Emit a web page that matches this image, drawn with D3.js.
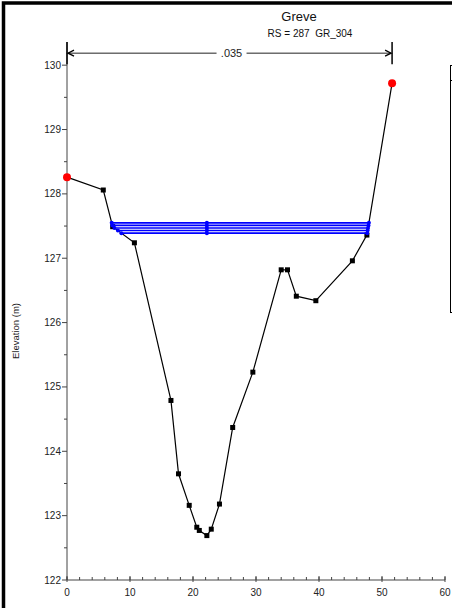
<!DOCTYPE html>
<html><head><meta charset="utf-8">
<script src="https://cdn.jsdelivr.net/npm/d3@7"></script>
<style>
html,body{margin:0;padding:0;background:#fff;}
svg{display:block;font-family:"Liberation Sans",Arial,sans-serif;}
</style></head>
<body><svg id="c" width="452" height="608"></svg>
<script>
// ---- data ----
const title = "Greve";
const subtitle = "RS = 287\u00a0\u00a0GR_304";
const stations = [0, 5.76, 7.25, 10.7, 16.5, 17.7, 19.4, 20.6, 21.0, 22.2, 22.9, 24.2, 26.3, 29.5, 34.0, 35.0, 36.4, 39.5, 45.3, 47.6, 51.6];
const elevations = [128.26, 128.06, 127.49, 127.24, 124.79, 123.65, 123.16, 122.82, 122.77, 122.69, 122.79, 123.18, 124.37, 125.23, 126.82, 126.82, 126.41, 126.34, 126.96, 127.36, 129.72];
const bankStations = [0, 51.6];
const bankElevations = [128.26, 129.72];
const wsElevations = [127.55, 127.51, 127.47, 127.43, 127.39];
const wsMidStation = [22.2];
const nValueLabel = [".035"];
const xTicks = [0, 10, 20, 30, 40, 50, 60];
const yTicks = [122, 123, 124, 125, 126, 127, 128, 129, 130];
const xDomain = [0, 60];
const yDomain = [122, 130.36];

// ---- layout ----
const svg = d3.select("#c");
const L = 67, R = 445, T = 42, B = 580;
const x = d3.scaleLinear().domain(xDomain).range([L, R]);
const y = d3.scaleLinear().domain(yDomain).range([B, T]);

// outer frame
svg.append("rect").attr("x", 3.5).attr("y", 3).attr("width", 470).attr("height", 640)
  .attr("fill", "none").attr("stroke", "#000").attr("stroke-width", 3.5);

// legend box (cut off on the right)
svg.append("rect").attr("x", 450.5).attr("y", 65.5).attr("width", 40).attr("height", 247)
  .attr("fill", "none").attr("stroke", "#000").attr("stroke-width", 1);
svg.append("line").attr("x1", 450.5).attr("x2", 460).attr("y1", 80.5).attr("y2", 80.5)
  .attr("stroke", "#000").attr("stroke-width", 1);

// titles
svg.append("text").attr("x", 299).attr("y", 21).attr("text-anchor", "middle")
  .attr("font-size", 13).attr("fill", "#111").text(title);
svg.append("text").attr("x", 310).attr("y", 37).attr("text-anchor", "middle")
  .attr("font-size", 10).attr("fill", "#111").text(subtitle);

// axes
const axisColor = "#444";
const g = svg.append("g");
// left axis
g.append("line").attr("x1", L).attr("x2", L).attr("y1", B).attr("y2", T)
  .attr("stroke", axisColor).attr("stroke-width", 1);
const yMinor = d3.range(122.5, 130.01, 1);
g.selectAll(".ymin").data(yMinor).join("line")
  .attr("x1", L - 3).attr("x2", L).attr("y1", d => y(d)).attr("y2", d => y(d))
  .attr("stroke", axisColor);
g.selectAll(".ymaj").data(yTicks).join("line")
  .attr("x1", L - 5).attr("x2", L).attr("y1", d => y(d)).attr("y2", d => y(d))
  .attr("stroke", axisColor);
g.selectAll(".ylab").data(yTicks).join("text")
  .attr("x", L - 6).attr("y", d => y(d) + 3.5).attr("text-anchor", "end")
  .attr("font-size", 10).attr("fill", "#222").text(d => d);
// bottom axis
g.append("line").attr("x1", L).attr("x2", R).attr("y1", B).attr("y2", B)
  .attr("stroke", axisColor).attr("stroke-width", 1);
const xMinor = d3.range(0, 60.01, 2);
g.selectAll(".xmin").data(xMinor).join("line")
  .attr("x1", d => x(d)).attr("x2", d => x(d)).attr("y1", B - 3).attr("y2", B)
  .attr("stroke", axisColor);
g.selectAll(".xmaj").data(xTicks).join("line")
  .attr("x1", d => x(d)).attr("x2", d => x(d)).attr("y1", B - 4).attr("y2", B + 2)
  .attr("stroke", axisColor);
g.selectAll(".xlab").data(xTicks).join("text")
  .attr("x", d => x(d)).attr("y", B + 16).attr("text-anchor", "middle")
  .attr("font-size", 10).attr("fill", "#222").text(d => d);
// y label
svg.append("text").attr("transform", `translate(19,${(T + B) / 2 + 20}) rotate(-90)`)
  .attr("text-anchor", "middle").attr("font-size", 9.5).attr("fill", "#222").text("Elevation (m)");

// bank station bracket + n value
const bx0 = x(bankStations[0]), bx1 = x(bankStations[1]);
const by = y(130) - 12;
svg.append("line").attr("x1", bx0).attr("x2", bx0).attr("y1", T).attr("y2", y(130) - 1)
  .attr("stroke", "#000").attr("stroke-width", 1.5);
svg.append("line").attr("x1", bx1).attr("x2", bx1).attr("y1", T).attr("y2", y(130) - 1)
  .attr("stroke", "#000").attr("stroke-width", 1.5);
svg.append("line").attr("x1", bx0 + 1).attr("x2", bx1 - 1).attr("y1", by).attr("y2", by)
  .attr("stroke", "#222").attr("stroke-width", 1);
// arrowheads
svg.append("path").attr("d", `M${bx0 + 7},${by - 3} L${bx0 + 1},${by} L${bx0 + 7},${by + 3}`)
  .attr("fill", "none").attr("stroke", "#000").attr("stroke-width", 1.3);
svg.append("path").attr("d", `M${bx1 - 7},${by - 3} L${bx1 - 1},${by} L${bx1 - 7},${by + 3}`)
  .attr("fill", "none").attr("stroke", "#000").attr("stroke-width", 1.3);
const nx = (bx0 + bx1) / 2 + 2;
svg.append("rect").attr("x", nx - 15).attr("y", by - 6).attr("width", 30).attr("height", 12).attr("fill", "#fff");
svg.append("text").attr("x", nx).attr("y", by + 4).attr("text-anchor", "middle")
  .attr("font-size", 11).attr("fill", "#222").text(nValueLabel[0]);

// ground line
const ground = stations.map((s, i) => [s, elevations[i]]);
svg.append("path").datum(ground)
  .attr("d", d3.line().x(d => x(d[0])).y(d => y(d[1])))
  .attr("fill", "none").attr("stroke", "#000").attr("stroke-width", 1.2);
svg.selectAll(".gpt").data(ground.slice(1, -1)).join("rect")
  .attr("x", d => x(d[0]) - 2.5).attr("y", d => y(d[1]) - 2.5)
  .attr("width", 5).attr("height", 5).attr("fill", "#000");

// water surface lines (ends where they meet the ground)
function crossing(ws, fromLeft) {
  const idx = d3.range(ground.length - 1);
  const order = fromLeft ? idx : idx.reverse();
  const minI = d3.minIndex(elevations);
  for (const i of order) {
    if (fromLeft && i >= minI) break;
    if (!fromLeft && i + 1 <= minI) break;
    const [s0, e0] = ground[i], [s1, e1] = ground[i + 1];
    if ((e0 - ws) * (e1 - ws) <= 0 && e0 !== e1) {
      return s0 + (ws - e0) / (e1 - e0) * (s1 - s0);
    }
  }
  return fromLeft ? stations[0] : stations[stations.length - 1];
}
const wsData = wsElevations.map(w => ({ w, l: crossing(w, true), r: crossing(w, false) }));
const wsG = svg.append("g");
wsG.selectAll("line").data(wsData).join("line")
  .attr("x1", d => x(d.l)).attr("x2", d => x(d.r))
  .attr("y1", d => y(d.w)).attr("y2", d => y(d.w))
  .attr("stroke", "#0000ff").attr("stroke-width", 1.6);
wsData.forEach(d => {
  [d.l, wsMidStation[0], d.r].forEach(s => {
    wsG.append("circle").attr("cx", x(s)).attr("cy", y(d.w)).attr("r", 2)
      .attr("fill", "#0000ff");
  });
});

// bank station points
svg.selectAll(".bank").data(bankStations).join("circle")
  .attr("cx", d => x(d)).attr("cy", (d, i) => y(bankElevations[i])).attr("r", 4)
  .attr("fill", "#ff0000");
</script></body></html>
